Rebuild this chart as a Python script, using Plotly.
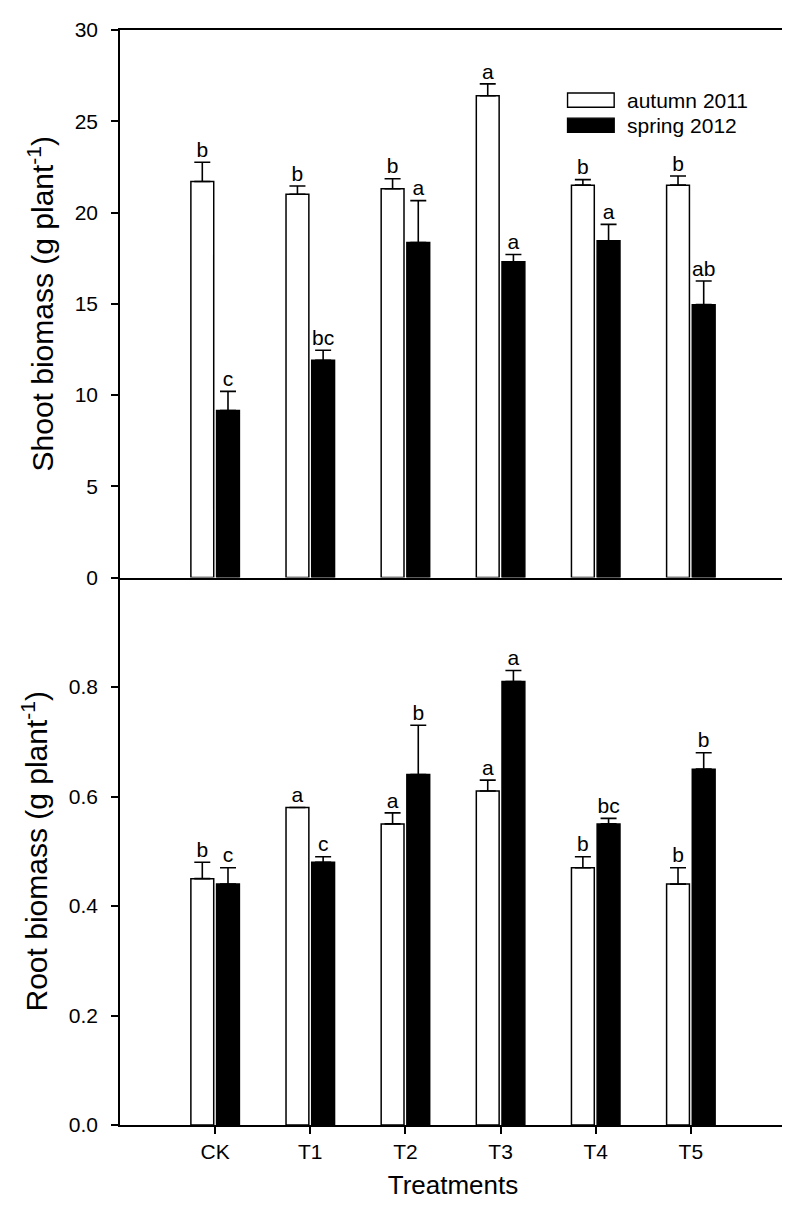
import plotly.graph_objects as go
from plotly.subplots import make_subplots

treatments = ["CK", "T1", "T2", "T3", "T4", "T5"]
series_names = ["autumn 2011", "spring 2012"]

shoot_autumn = [21.7, 21.0, 21.3, 26.4, 21.5, 21.5]
shoot_autumn_err = [1.05, 0.45, 0.55, 0.65, 0.3, 0.5]
shoot_spring = [9.15, 11.9, 18.35, 17.3, 18.45, 14.95]
shoot_spring_err = [1.05, 0.55, 2.3, 0.4, 0.9, 1.3]
shoot_autumn_letters = ["b", "b", "b", "a", "b", "b"]
shoot_spring_letters = ["c", "bc", "a", "a", "a", "ab"]

root_autumn = [0.45, 0.58, 0.55, 0.61, 0.47, 0.44]
root_autumn_err = [0.03, 0.0, 0.02, 0.02, 0.02, 0.03]
root_spring = [0.44, 0.48, 0.64, 0.81, 0.55, 0.65]
root_spring_err = [0.03, 0.01, 0.09, 0.02, 0.01, 0.03]
root_autumn_letters = ["b", "a", "a", "a", "b", "b"]
root_spring_letters = ["c", "c", "b", "a", "bc", "b"]

FONT = "Liberation Sans, Arial, sans-serif"
BAR_W = 0.24
OFF_A = -0.255
OFF_S = 0.015

xpos = list(range(len(treatments)))

fig = make_subplots(rows=2, cols=1, shared_xaxes=True, vertical_spacing=0)


def add_panel(row, a_vals, a_err, s_vals, s_err, a_let, s_let):
    for vals, err, off, fill, name, lets in [
        (a_vals, a_err, OFF_A, "white", series_names[0], a_let),
        (s_vals, s_err, OFF_S, "black", series_names[1], s_let),
    ]:
        fig.add_trace(go.Bar(
            x=xpos, y=vals, width=BAR_W, offset=off, name=name,
            marker=dict(color=fill, line=dict(color="black", width=1.5)),
            error_y=dict(type="data", array=err, arrayminus=[0] * len(err),
                         symmetric=False, color="black", thickness=1.6, width=8),
            showlegend=False,
        ), row=row, col=1)
        centre = off + BAR_W / 2
        fig.add_trace(go.Scatter(
            x=[p + centre for p in xpos],
            y=[v + e for v, e in zip(vals, err)],
            mode="text", text=lets, textposition="top center",
            textfont=dict(family=FONT, size=21, color="black"),
            showlegend=False, cliponaxis=False, hoverinfo="skip",
        ), row=row, col=1)


add_panel(1, shoot_autumn, shoot_autumn_err, shoot_spring, shoot_spring_err,
          shoot_autumn_letters, shoot_spring_letters)
add_panel(2, root_autumn, root_autumn_err, root_spring, root_spring_err,
          root_autumn_letters, root_spring_letters)

fig.update_layout(
    barmode="overlay",
    width=790, height=1209,
    margin=dict(l=112, r=10, t=16, b=92),
    plot_bgcolor="white", paper_bgcolor="white",
    font=dict(family=FONT, size=21, color="black"),
    showlegend=False,
)

axis_common = dict(showline=True, linecolor="black", linewidth=1.5,
                   showgrid=False, zeroline=False)

fig.update_xaxes(range=[-1, 6], **axis_common)
fig.update_xaxes(showticklabels=False, ticks="", mirror=True, row=1, col=1)
fig.update_xaxes(tickmode="array", tickvals=xpos, ticktext=treatments, mirror=False,
                 ticks="outside", ticklen=7, tickwidth=1.5, tickcolor="black",
                 tickfont=dict(size=21),
                 title=dict(text="Treatments", font=dict(size=26), standoff=14),
                 row=2, col=1)

fig.update_yaxes(mirror=True, **axis_common)
fig.update_yaxes(range=[0, 30], tickvals=[0, 5, 10, 15, 20, 25, 30],
                 ticks="outside", ticklen=7, tickwidth=1.5, tickcolor="black",
                 tickfont=dict(size=21), ticklabelstandoff=9,
                 title=dict(text="Shoot biomass (g plant<sup>-1</sup>)",
                            font=dict(size=30), standoff=12),
                 row=1, col=1)
fig.update_yaxes(range=[0, 1.0], tickvals=[0, 0.2, 0.4, 0.6, 0.8], tickformat=".1f",
                 ticks="outside", ticklen=7, tickwidth=1.5, tickcolor="black",
                 tickfont=dict(size=21), ticklabelstandoff=9,
                 title=dict(text="Root biomass (g plant<sup>-1</sup>)",
                            font=dict(size=30), standoff=12),
                 row=2, col=1)

# Legend drawn in paper coordinates
legend_rows = [("white", series_names[0], 0.936), ("black", series_names[1], 0.913)]
for fill, label, yc in legend_rows:
    fig.add_shape(type="rect", xref="paper", yref="paper",
                  x0=0.672, x1=0.742, y0=yc - 0.0065, y1=yc + 0.0065,
                  fillcolor=fill, line=dict(color="black", width=1.4))
    fig.add_annotation(xref="paper", yref="paper", x=0.758, y=yc, text=label,
                       showarrow=False, xanchor="left", yanchor="middle",
                       font=dict(family=FONT, size=21, color="black"))

fig.write_html("out.html")
